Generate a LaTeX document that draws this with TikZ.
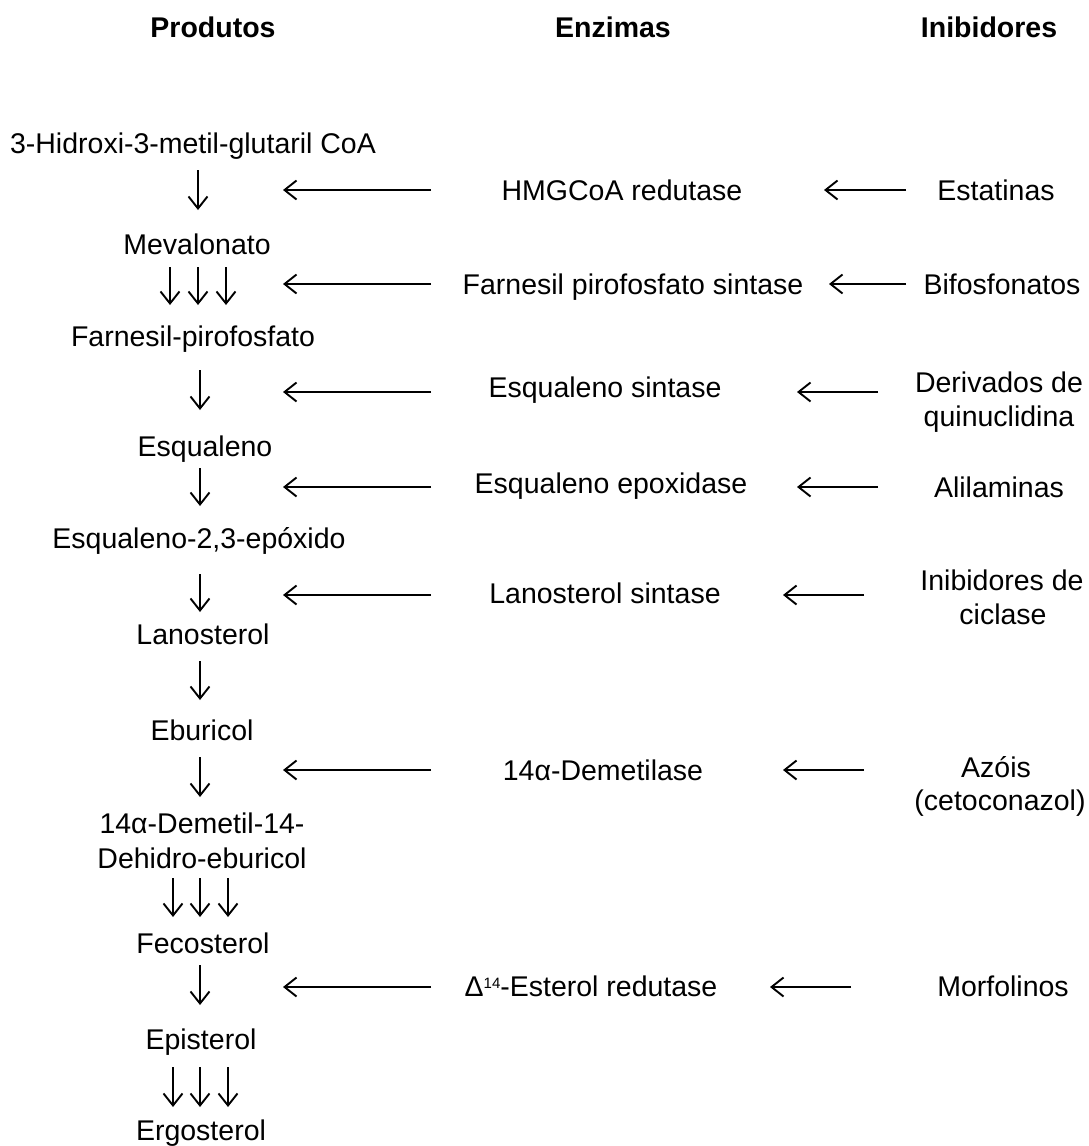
\documentclass[tikz,border=0pt]{standalone}
\usepackage{fontspec}
\setmainfont{Liberation Sans}
\usetikzlibrary{arrows.meta}
\begin{document}
\begin{tikzpicture}[x=1pt,y=-1pt,
  txt/.style={anchor=base,inner sep=0pt,font=\fontsize{28.5}{34}\selectfont},
  hdr/.style={anchor=base,inner sep=0pt,font=\fontsize{28.5}{34}\selectfont\bfseries},
  arr/.style={line width=1.9pt,-{Straight Barb[length=12pt,width=19pt,line width=1.9pt]}}]
\useasboundingbox (0,0) rectangle (1088,1146);
% headers
\node[hdr] (hP) at (213,37) {Produtos};
\node[hdr] (hE) at (613,37) {Enzimas};
\node[hdr] (hI) at (989,37) {Inibidores};
% products
\node[txt] (p1) at (193,153) {3-Hidroxi-3-metil-glutaril CoA};
\node[txt] (p2) at (197,254) {Mevalonato};
\node[txt] (p3) at (193,346) {Farnesil-pirofosfato};
\node[txt] (p4) at (205,456) {Esqualeno};
\node[txt] (p5) at (199,548) {Esqualeno-2,3-epóxido};
\node[txt] (p6) at (203,644) {Lanosterol};
\node[txt] (p7) at (202,740) {Eburicol};
\node[txt] (p8a) at (202,833) {14α-Demetil-14-};
\node[txt] (p8b) at (202,868) {Dehidro-eburicol};
\node[txt] (p9) at (203,953) {Fecosterol};
\node[txt] (p10) at (201,1049) {Episterol};
\node[txt] (p11) at (201,1140) {Ergosterol};
% enzymes
\node[txt] (e1) at (622,200) {HMGCoA redutase};
\node[txt] (e2) at (633,294) {Farnesil pirofosfato sintase};
\node[txt] (e3) at (605,397) {Esqualeno sintase};
\node[txt] (e4) at (611,493) {Esqualeno epoxidase};
\node[txt] (e5) at (605,603) {Lanosterol sintase};
\node[txt] (e6) at (603,780) {14α-Demetilase};
\node[txt] (e7) at (591,996) {Δ\raisebox{8pt}{\fontsize{15}{15}\selectfont 14}-Esterol redutase};
% inhibitors
\node[txt] (i1) at (996,200) {Estatinas};
\node[txt] (i2) at (1002,294) {Bifosfonatos};
\node[txt] (i3a) at (999,392) {Derivados de};
\node[txt] (i3b) at (999,426) {quinuclidina};
\node[txt] (i4) at (999,497) {Alilaminas};
\node[txt] (i5a) at (1002,590) {Inibidores de};
\node[txt] (i5b) at (1003,624) {ciclase};
\node[txt] (i6a) at (996,777) {Azóis};
\node[txt] (i6b) at (1000,810) {(cetoconazol)};
\node[txt] (i7) at (1003,996) {Morfolinos};
% arrow end points: enzyme -> product
\foreach \n/\y in {1/190,2/284,3/392,4/487,5/595,6/770,7/987}{
  \coordinate (eS\n) at (431,\y);
  \coordinate (eT\n) at (283,\y);
}
\foreach \n in {1,...,7}{\draw[arr] (eS\n) -- (eT\n);}
% inhibitor -> enzyme
\coordinate (iS1) at (906,190); \coordinate (iT1) at (824,190);
\coordinate (iS2) at (906,284); \coordinate (iT2) at (829,284);
\coordinate (iS3) at (878,392); \coordinate (iT3) at (797,392);
\coordinate (iS4) at (878,487); \coordinate (iT4) at (797,487);
\coordinate (iS5) at (864,595); \coordinate (iT5) at (783,595);
\coordinate (iS6) at (864,770); \coordinate (iT6) at (783,770);
\coordinate (iS7) at (851,987); \coordinate (iT7) at (770,987);
\foreach \n in {1,...,7}{\draw[arr] (iS\n) -- (iT\n);}
% vertical single arrows
\foreach \n/\x/\a/\b in {1/198/170/210,3/200/370/410,4/200/468/506,5/200/574/612,6/200/661/700,7/200/757/797,9/200/965/1005}{
  \coordinate (vS\n) at (\x,\a);
  \coordinate (vT\n) at (\x,\b);
  \draw[arr] (vS\n) -- (vT\n);
}
% vertical triple arrows
\foreach \n/\a/\b/\xa/\xb/\xc in {2/267/305/170/198/226,8/878/917/173/200/228,10/1067/1107/173/200/228}{
  \foreach \k/\x in {a/\xa,b/\xb,c/\xc}{
    \coordinate (tS\n\k) at (\x,\a);
    \coordinate (tT\n\k) at (\x,\b);
    \draw[arr] (tS\n\k) -- (tT\n\k);
  }
}
\end{tikzpicture}
\end{document}
